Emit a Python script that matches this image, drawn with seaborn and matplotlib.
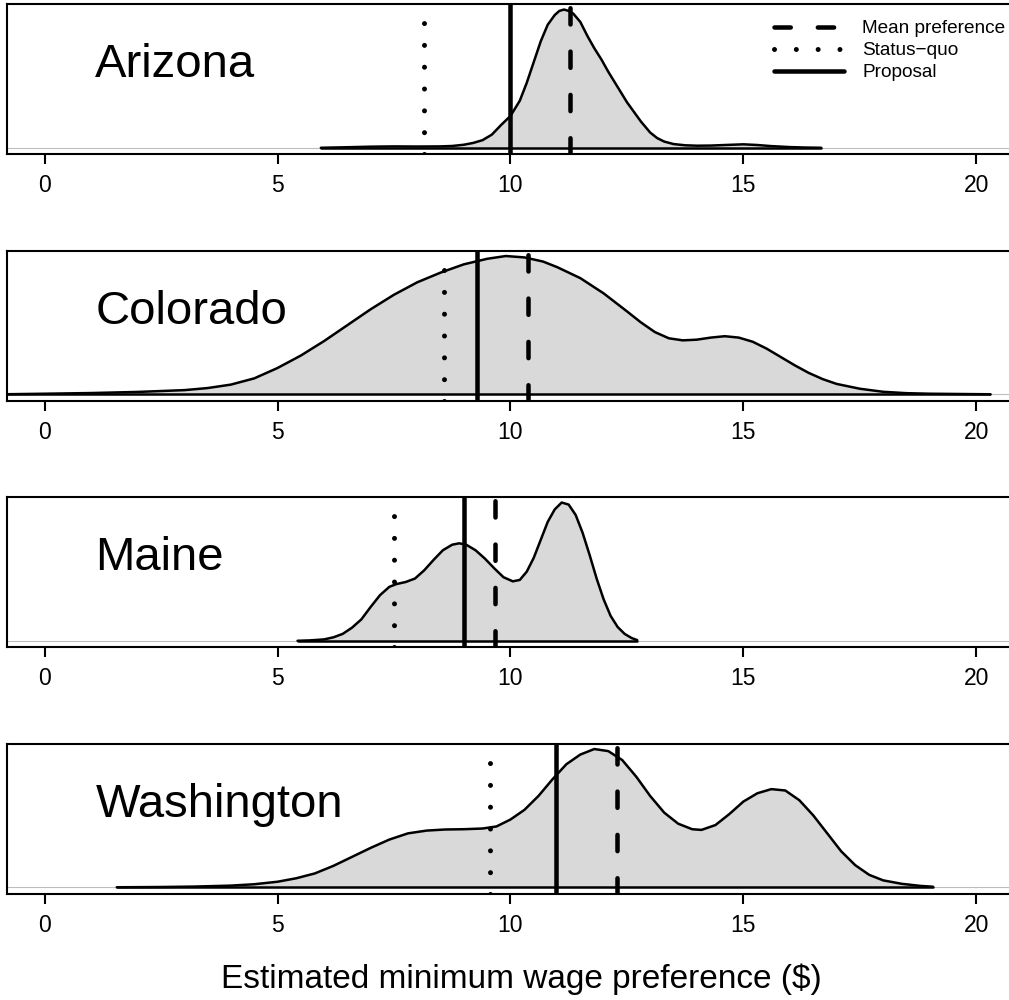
import numpy as np
import pandas as pd
import matplotlib
matplotlib.use("Agg")
import matplotlib.pyplot as plt
import matplotlib.transforms as mtransforms
from matplotlib.lines import Line2D
import seaborn as sns

# ---------------- data ----------------
states = ["Arizona", "Colorado", "Maine", "Washington"]

arizona_x = [5.93, 6.5, 7.0, 7.5, 8.0, 8.5, 8.75, 9.0, 9.2, 9.4, 9.6, 9.8, 10.0, 10.2,
             10.35, 10.5, 10.65, 10.8, 10.95, 11.05, 11.15, 11.25, 11.35, 11.5, 11.65,
             11.8, 11.95, 12.1, 12.3, 12.5, 12.65, 12.8, 13.0, 13.15, 13.3, 13.5, 13.75,
             14.0, 14.3, 14.6, 15.0, 15.3, 15.6, 16.0, 16.3, 16.67]
arizona_y = [0.0, 0.004, 0.008, 0.010, 0.009, 0.010, 0.013, 0.022, 0.035, 0.055, 0.095,
             0.165, 0.23, 0.34, 0.47, 0.62, 0.77, 0.89, 0.96, 0.99, 1.0, 0.99, 0.97, 0.91,
             0.81, 0.72, 0.64, 0.55, 0.44, 0.33, 0.26, 0.19, 0.11, 0.07, 0.045, 0.027,
             0.018, 0.015, 0.016, 0.02, 0.025, 0.02, 0.012, 0.005, 0.002, 0.0]

colorado_x = [-0.9, 0, 1, 2, 3, 3.5, 4, 4.5, 5, 5.5, 6, 6.5, 7, 7.5, 8, 8.5, 9, 9.5, 9.9,
              10.3, 10.7, 11, 11.5, 12, 12.5, 12.8, 13.1, 13.4, 13.7, 14.0, 14.3, 14.6,
              14.9, 15.2, 15.5, 15.8, 16.1, 16.4, 16.7, 17, 17.5, 18, 18.5, 19, 20.3]
colorado_y = [0.0, 0.004, 0.009, 0.017, 0.03, 0.045, 0.07, 0.115, 0.19, 0.28, 0.385, 0.5,
              0.615, 0.72, 0.81, 0.88, 0.94, 0.98, 1.0, 0.99, 0.96, 0.92, 0.84, 0.73, 0.6,
              0.52, 0.45, 0.405, 0.39, 0.395, 0.41, 0.42, 0.41, 0.38, 0.33, 0.27, 0.21,
              0.155, 0.11, 0.075, 0.04, 0.018, 0.008, 0.004, 0.0]

maine_x = [5.43, 5.7, 6.0, 6.2, 6.4, 6.6, 6.8, 7.0, 7.2, 7.4, 7.55, 7.75, 7.95, 8.15, 8.35,
           8.55, 8.75, 8.9, 9.05, 9.25, 9.45, 9.65, 9.85, 10.05, 10.2, 10.35, 10.5, 10.65,
           10.8, 10.95, 11.1, 11.25, 11.4, 11.55, 11.7, 11.85, 12.0, 12.15, 12.3, 12.45,
           12.6, 12.72]
maine_y = [0.0, 0.003, 0.01, 0.025, 0.05, 0.095, 0.155, 0.245, 0.33, 0.39, 0.41, 0.425,
           0.45, 0.51, 0.585, 0.655, 0.695, 0.705, 0.695, 0.655, 0.595, 0.525, 0.46, 0.43,
           0.44, 0.5, 0.6, 0.73, 0.86, 0.95, 1.0, 0.985, 0.91, 0.78, 0.62, 0.45, 0.3, 0.18,
           0.1, 0.05, 0.02, 0.005]

washington_x = [1.55, 2.5, 3.2, 4.0, 4.5, 5.0, 5.4, 5.8, 6.2, 6.6, 7.0, 7.4, 7.8, 8.2, 8.6,
                9.0, 9.4, 9.7, 10.0, 10.3, 10.6, 10.9, 11.2, 11.5, 11.8, 12.1, 12.4, 12.7,
                13.0, 13.3, 13.6, 13.9, 14.1, 14.4, 14.7, 15.0, 15.3, 15.6, 15.9, 16.2,
                16.5, 16.8, 17.1, 17.4, 17.7, 18.0, 18.4, 18.8, 19.07]
washington_y = [0.0, 0.002, 0.005, 0.012, 0.022, 0.04, 0.065, 0.1, 0.155, 0.22, 0.285,
                0.345, 0.39, 0.41, 0.418, 0.42, 0.425, 0.44, 0.49, 0.56, 0.66, 0.78, 0.89,
                0.96, 1.0, 0.985, 0.92, 0.8, 0.66, 0.54, 0.46, 0.42, 0.415, 0.45, 0.53,
                0.62, 0.68, 0.71, 0.7, 0.63, 0.52, 0.39, 0.26, 0.16, 0.09, 0.05, 0.025,
                0.01, 0.004]

status_quo = [8.15, 8.57, 7.49, 9.56]
proposal = [10.0, 9.29, 9.01, 10.97]
mean_pref = [11.28, 10.38, 9.66, 12.29]

x_ticks = [0, 5, 10, 15, 20]
legend_labels = ["Mean preference", "Status\u2212quo", "Proposal"]
x_label = "Estimated minimum wage preference ($)"

curves = {
    "Arizona": (arizona_x, arizona_y),
    "Colorado": (colorado_x, colorado_y),
    "Maine": (maine_x, maine_y),
    "Washington": (washington_x, washington_y),
}

# ---------------- style ----------------
sns.set_theme(style="white")
plt.rcParams["font.family"] = ["Liberation Sans", "DejaVu Sans"]
plt.rcParams["lines.scale_dashes"] = False
plt.rcParams["text.color"] = "black"

W, H = 1009, 1000
fig = plt.figure(figsize=(W / 100, H / 100), dpi=100)

DASHED = (0, (11.7, 19.5))
DOTTED = (0, (0.01, 15.7))
VLW = 3.25
DLW = 3.6

left_px, right_px = 7.3, 1013.6
for i, st in enumerate(states):
    top_px = 4 + 246.5 * i
    ax = fig.add_axes([left_px / W, 1 - (top_px + 150) / H, (right_px - left_px) / W, 150 / H])
    xs, ys = curves[st]
    df = pd.DataFrame({"x": xs, "density": ys})

    ax.axhline(0, color="#BEBEBE", lw=0.8, zorder=1)
    ax.fill_between(df["x"], 0, df["density"], color="#D9D9D9", lw=0, zorder=2)
    sns.lineplot(data=df, x="x", y="density", ax=ax, color="black", lw=1.8,
                 sort=False, estimator=None, zorder=3)
    ax.plot([xs[0], xs[-1]], [0, 0], color="black", lw=1.8, zorder=3,
            solid_capstyle="round")

    ax.axvline(status_quo[i], color="black", lw=DLW, linestyle=DOTTED,
               dash_capstyle="round", zorder=4)
    ax.axvline(proposal[i], color="black", lw=VLW, zorder=4)
    ax.axvline(mean_pref[i], color="black", lw=VLW, linestyle=DASHED,
               dash_capstyle="round", zorder=4)

    ax.set_xlim(-0.8, 20.8)
    ax.set_ylim(-0.045, 1.04)
    ax.set_xticks(x_ticks)
    ax.set_xticklabels([str(t) for t in x_ticks])
    ax.set_yticks([])
    ax.set(xlabel="", ylabel="")
    ax.tick_params(axis="x", bottom=True, length=7.5, width=1.5, color="black",
                   labelsize=16.5, labelcolor="black", pad=7)
    for sp in ax.spines.values():
        sp.set_visible(True)
        sp.set_color("black")
        sp.set_linewidth(1.5)

    trans = mtransforms.blended_transform_factory(ax.transData, ax.transAxes)
    ax.text(1.09, 0.513, st, transform=trans, ha="left", va="baseline",
            fontsize=34, color="black")

    if i == 0:
        handles = [
            Line2D([], [], color="black", lw=VLW, linestyle=DASHED, dash_capstyle="round"),
            Line2D([], [], color="black", lw=DLW, linestyle=DOTTED, dash_capstyle="round"),
            Line2D([], [], color="black", lw=VLW, solid_capstyle="round"),
        ]
        fig.legend(handles, legend_labels, loc="upper left",
                   bbox_to_anchor=(774 / W, 1 - 20 / H), bbox_transform=fig.transFigure,
                   frameon=False, fontsize=13.7, handlelength=3.7, handletextpad=0.95,
                   labelspacing=0.25, borderpad=0, borderaxespad=0)

fig.text(521 / W, 1 - 988 / H, x_label, ha="center", va="baseline", fontsize=24,
         color="black")

fig.savefig("out.png", dpi=100)
